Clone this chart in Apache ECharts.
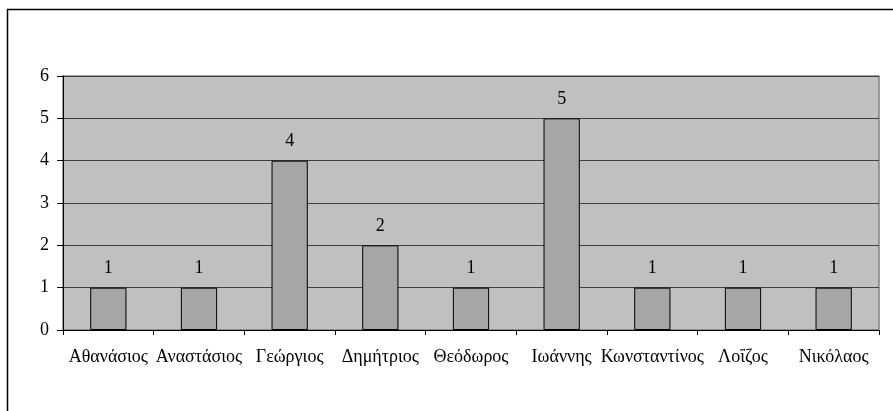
<!DOCTYPE html>
<html>
<head>
<meta charset="utf-8">
<script src="https://cdn.jsdelivr.net/npm/echarts@6/dist/echarts.min.js"></script>
<style>
  html, body { margin: 0; padding: 0; background: #fff; }
  #chart { width: 893px; height: 411px; }
</style>
</head>
<body>
<div id="chart"></div>
<script>
var names = ['Αθανάσιος', 'Αναστάσιος', 'Γεώργιος', 'Δημήτριος', 'Θεόδωρος', 'Ιωάννης', 'Κωνσταντίνος', 'Λοΐζος', 'Νικόλαος'];
var counts = [1, 1, 4, 2, 1, 5, 1, 1, 1];
var yTicks = [0, 1, 2, 3, 4, 5, 6];

var chart = echarts.init(document.getElementById('chart'));
var font = '"Liberation Serif", "DejaVu Serif", serif';

chart.setOption({
    backgroundColor: '#ffffff',
    animation: false,
    textStyle: { fontFamily: font },
    graphic: [{
        type: 'polyline',
        shape: { points: [[7.5, 411], [7.5, 9.5], [893, 9.5]] },
        style: { stroke: '#000', lineWidth: 1.5, fill: null },
        silent: true
    }],
    grid: {
        left: 63, top: 76, right: 14, bottom: 81,
        show: true,
        backgroundColor: '#c0c0c0',
        borderColor: '#808080',
        borderWidth: 1.5
    },
    xAxis: {
        type: 'category',
        data: names,
        axisLine: { lineStyle: { color: '#000', width: 1 } },
        axisTick: { show: true, length: 5, lineStyle: { color: '#000' } },
        axisLabel: { color: '#000', fontSize: 18, fontFamily: font, margin: 18, interval: 0 }
    },
    yAxis: {
        type: 'value',
        min: yTicks[0],
        max: yTicks[yTicks.length - 1],
        interval: 1,
        axisLine: { show: true, lineStyle: { color: '#000', width: 1 } },
        axisTick: { show: true, length: 6, lineStyle: { color: '#000' } },
        axisLabel: { color: '#000', fontSize: 18, fontFamily: font, margin: 14 },
        splitLine: { show: true, lineStyle: { color: '#404040', width: 1 } }
    },
    series: [{
        type: 'bar',
        data: counts,
        barWidth: '40%',
        itemStyle: { color: '#a6a6a6', borderColor: '#000', borderWidth: 1 },
        label: {
            show: true,
            position: 'top',
            distance: 10,
            color: '#000',
            fontSize: 18,
            fontFamily: font
        }
    }]
});
</script>
</body>
</html>
